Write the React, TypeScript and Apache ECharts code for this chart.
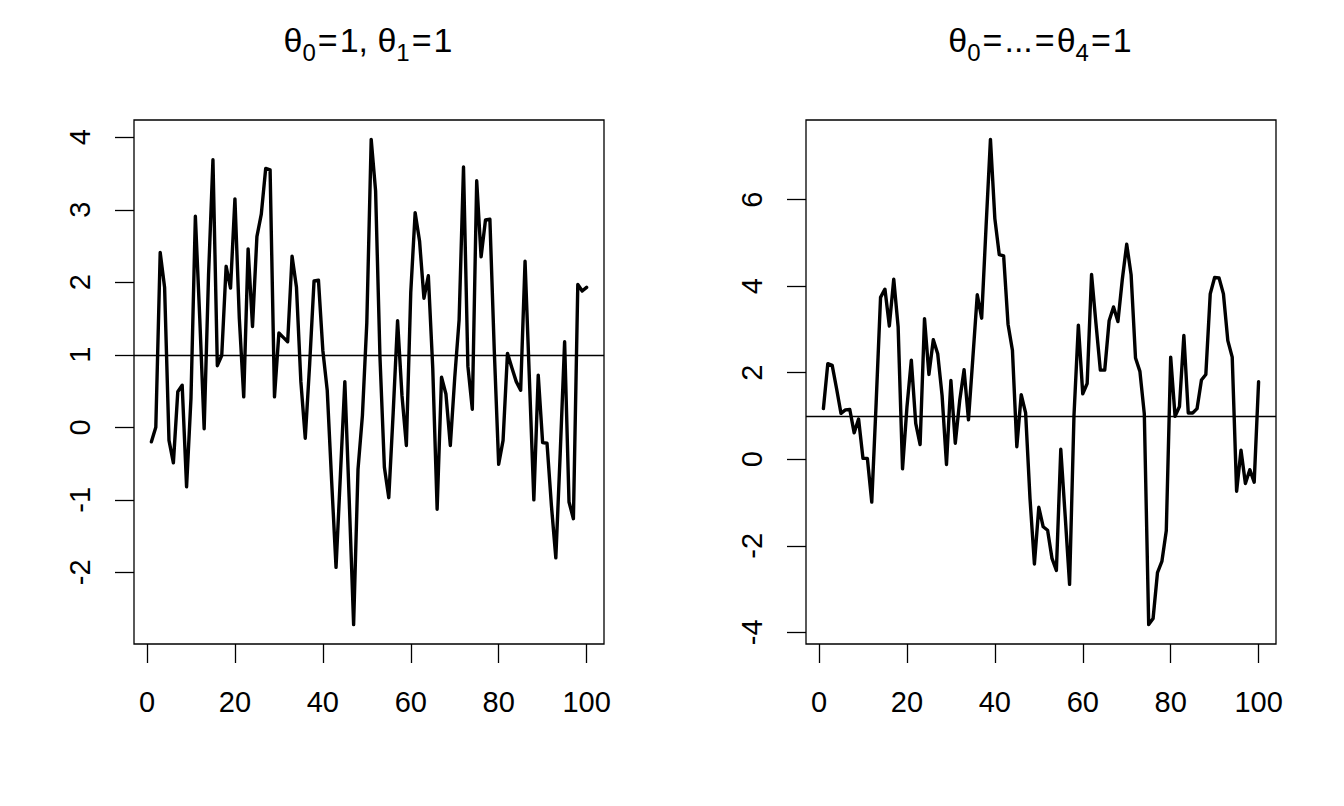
import React, { useEffect, useRef } from "react";
import * as echarts from "echarts";

// time index 1..100
const timeIndex: number[] = [
  1, 2, 3, 4, 5, 6, 7, 8, 9, 10, 11, 12, 13, 14, 15, 16, 17, 18, 19, 20,
  21, 22, 23, 24, 25, 26, 27, 28, 29, 30, 31, 32, 33, 34, 35, 36, 37, 38, 39, 40,
  41, 42, 43, 44, 45, 46, 47, 48, 49, 50, 51, 52, 53, 54, 55, 56, 57, 58, 59, 60,
  61, 62, 63, 64, 65, 66, 67, 68, 69, 70, 71, 72, 73, 74, 75, 76, 77, 78, 79, 80,
  81, 82, 83, 84, 85, 86, 87, 88, 89, 90, 91, 92, 93, 94, 95, 96, 97, 98, 99, 100,
];

// MA(1) series, theta0 = theta1 = 1
const seriesMA1: number[] = [
  -0.2, 0.0, 2.41, 1.93, -0.18, -0.49, 0.49, 0.58, -0.82, 0.4,
  2.91, 1.5, -0.02, 2.1, 3.69, 0.85, 0.99, 2.22, 1.92, 3.15,
  1.5, 0.42, 2.46, 1.39, 2.63, 2.94, 3.57, 3.55, 0.42, 1.3,
  1.24, 1.18, 2.36, 1.93, 0.63, -0.15, 0.87, 2.02, 2.03, 1.06,
  0.51, -0.74, -1.93, -0.65, 0.63, -1.0, -2.72, -0.58, 0.16, 1.44,
  3.97, 3.26, 0.96, -0.55, -0.97, 0.2, 1.47, 0.44, -0.25, 1.86,
  2.96, 2.57, 1.78, 2.09, 0.82, -1.13, 0.69, 0.46, -0.25, 0.68,
  1.48, 3.59, 0.84, 0.25, 3.4, 2.35, 2.86, 2.87, 1.06, -0.51,
  -0.18, 1.02, 0.82, 0.63, 0.51, 2.29, 0.65, -1.0, 0.72, -0.21,
  -0.22, -1.08, -1.8, -0.36, 1.18, -1.03, -1.26, 1.97, 1.88, 1.93,
];

// MA(4) series, theta0 = ... = theta4 = 1
const seriesMA4: number[] = [
  1.17, 2.21, 2.17, 1.63, 1.06, 1.14, 1.15, 0.61, 0.93, 0.02,
  0.02, -0.99, 1.31, 3.74, 3.93, 3.08, 4.16, 3.06, -0.22, 1.2,
  2.29, 0.83, 0.34, 3.25, 1.96, 2.76, 2.44, 1.47, -0.12, 1.82,
  0.37, 1.35, 2.07, 0.91, 2.34, 3.8, 3.26, 5.37, 7.39, 5.56,
  4.73, 4.7, 3.12, 2.52, 0.29, 1.49, 1.07, -0.91, -2.42, -1.11,
  -1.56, -1.64, -2.29, -2.57, 0.23, -1.31, -2.89, 1.0, 3.1, 1.51,
  1.75, 4.27, 3.14, 2.06, 2.06, 3.2, 3.52, 3.18, 4.16, 4.97,
  4.26, 2.34, 2.03, 1.05, -3.82, -3.68, -2.62, -2.36, -1.65, 2.36,
  0.99, 1.22, 2.86, 1.07, 1.07, 1.17, 1.83, 1.96, 3.82, 4.2,
  4.19, 3.82, 2.74, 2.36, -0.74, 0.21, -0.56, -0.24, -0.53, 1.79,
];

const xTickValues: number[] = [0, 20, 40, 60, 80, 100];
const yTickValuesMA1: number[] = [-2, -1, 0, 1, 2, 3, 4];
const yTickValuesMA4: number[] = [-4, -2, 0, 2, 4, 6];
const referenceLevel = 1;

const titleMA1 = "{t|θ}{s|0}{e|=}{t|1, θ}{s|1}{e|=}{t|1}";
const titleMA4 = "{t|θ}{s|0}{e|=}{t|...}{e|=}{t|θ}{s|4}{e|=}{t|1}";

const FONT = "'Liberation Sans', Arial, Helvetica, sans-serif";

// R-style 4% range extension
function extRange(vals: number[]): [number, number] {
  const lo = Math.min(...vals);
  const hi = Math.max(...vals);
  const d = (hi - lo) * 0.04;
  return [lo - d, hi + d];
}

export default function App() {
  const ref = useRef<HTMLDivElement>(null);

  useEffect(() => {
    if (!ref.current) return;
    const chart = echarts.init(ref.current, null, { renderer: "svg" });

    const [xMin, xMax] = extRange(timeIndex);
    const [y1Min, y1Max] = extRange(seriesMA1);
    const [y2Min, y2Max] = extRange(seriesMA4);

    const base = { fontWeight: "normal", fontFamily: FONT, color: "#000" };
    const richTitle = {
      t: { ...base, fontSize: 34, lineHeight: 48, verticalAlign: "middle" },
      e: { ...base, fontSize: 34, lineHeight: 48, verticalAlign: "middle", padding: [0, 2, 0, 2] },
      s: { ...base, fontSize: 24, lineHeight: 26, verticalAlign: "bottom" },
    };

    const titleStyle = {
      ...base,
      fontSize: 34,
      lineHeight: 48,
      rich: richTitle,
    };

    const grids = [
      { left: 134, top: 120, width: 470, height: 524 },
      { left: 806, top: 120, width: 470, height: 524 },
    ];

    const makeX = (gi: number) => ({
      gridIndex: gi,
      type: "value",
      position: "bottom",
      min: xMin,
      max: xMax,
      axisLine: { show: false, onZero: false },
      splitLine: { show: false },
      axisTick: {
        show: true,
        length: 19,
        customValues: xTickValues,
        lineStyle: { color: "#000", width: 1.3 },
      },
      axisLabel: {
        customValues: xTickValues,
        color: "#000",
        fontSize: 29,
        fontFamily: FONT,
        margin: 43,
      },
    });

    const makeY = (gi: number, min: number, max: number, ticks: number[]) => ({
      gridIndex: gi,
      type: "value",
      position: "left",
      min,
      max,
      axisLine: { show: false, onZero: false },
      splitLine: { show: false },
      axisTick: {
        show: true,
        length: 19,
        customValues: ticks,
        lineStyle: { color: "#000", width: 1.3 },
      },
      axisLabel: {
        customValues: ticks,
        color: "#000",
        fontSize: 29,
        fontFamily: FONT,
        rotate: 90,
        margin: 40,
      },
    });

    const makeSeries = (gi: number, vals: number[]) => ({
      type: "line",
      xAxisIndex: gi,
      yAxisIndex: gi,
      data: timeIndex.map((t, k) => [t, vals[k]]),
      showSymbol: false,
      symbol: "none",
      lineStyle: { color: "#000", width: 3.4, join: "round", cap: "round" },
      markLine: {
        silent: true,
        symbol: ["none", "none"],
        label: { show: false },
        lineStyle: { color: "#000", width: 1.3, type: "solid" },
        data: [{ yAxis: referenceLevel }],
      },
    });

    chart.setOption({
      animation: false,
      backgroundColor: "#fff",
      title: [
        {
          text: titleMA1,
          left: 368,
          top: 16,
          textAlign: "center",
          padding: 0,
          textStyle: titleStyle,
        },
        {
          text: titleMA4,
          left: 1040,
          top: 16,
          textAlign: "center",
          padding: 0,
          textStyle: titleStyle,
        },
      ],
      grid: grids.map((g) => ({
        ...g,
        show: true,
        borderColor: "#000",
        borderWidth: 1.3,
        backgroundColor: "transparent",
        containLabel: false,
      })),
      xAxis: [makeX(0), makeX(1)],
      yAxis: [
        makeY(0, y1Min, y1Max, yTickValuesMA1),
        makeY(1, y2Min, y2Max, yTickValuesMA4),
      ],
      series: [makeSeries(0, seriesMA1), makeSeries(1, seriesMA4)],
    });

    return () => chart.dispose();
  }, []);

  return (
    <div
      ref={ref}
      style={{ position: "absolute", left: 0, top: 0, width: 1344, height: 806, background: "#fff" }}
    />
  );
}
